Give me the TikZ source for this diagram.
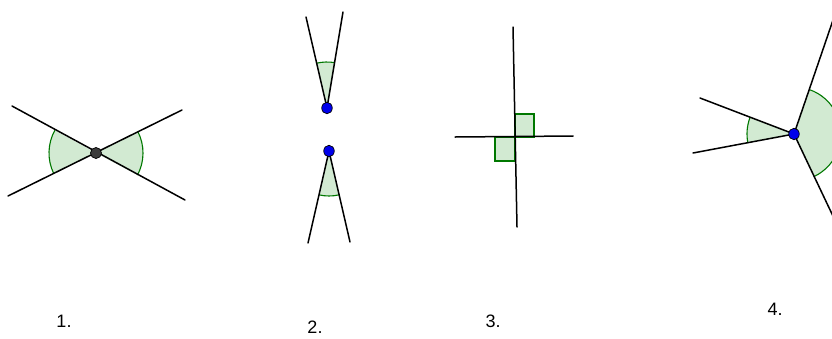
\documentclass[tikz,border=0pt]{standalone}
\usepackage{fontspec}
\setmainfont{Liberation Sans}
\usetikzlibrary{calc,shapes.geometric}
\begin{document}
\begin{tikzpicture}[x=1pt,y=-1pt,
  ray/.style={line width=1.5pt,black,line cap=round},
  sector/.style={fill={rgb,255:red,210;green,234;blue,210}},
  arcline/.style={draw={rgb,255:red,0;green,120;blue,0},line width=1.1pt},
  bluedot/.style={ellipse,draw=black,line width=0.7pt,fill={rgb,255:red,0;green,0;blue,235},minimum width=10.5pt,minimum height=11.5pt,inner sep=0pt},
  greydot/.style={circle,draw=black,line width=0.7pt,fill={rgb,255:red,60;green,60;blue,60},minimum size=11pt,inner sep=0pt},
  lbl/.style={font=\fontsize{18}{20}\selectfont,inner sep=0pt}]
\clip (0,0) rectangle (832,338);
\fill[white] (0,0) rectangle (832,338);
% ---------- figure 1
\coordinate (c1) at (96,153);
\coordinate (a1) at (12,106);
\coordinate (b1) at (185,200);
\coordinate (e1) at (8,196);
\coordinate (f1) at (182,110);
\fill[sector] (c1) -- ++(154:47) arc[start angle=154,end angle=209,radius=47] -- cycle;
\draw[arcline] ($(c1)+(154:47)$) arc[start angle=154,end angle=209,radius=47];
\fill[sector] (c1) -- ++(-27:47) arc[start angle=-27,end angle=28,radius=47] -- cycle;
\draw[arcline] ($(c1)+(-27:47)$) arc[start angle=-27,end angle=28,radius=47];
\draw[ray] (a1) -- (b1);
\draw[ray] (e1) -- (f1);
\node[greydot] (d1) at (c1) {};
% ---------- figure 2
\coordinate (c2a) at (327,108);
\coordinate (c2b) at (329,151);
\coordinate (u2l) at (306,17);
\coordinate (u2r) at (343,12);
\coordinate (l2l) at (308,243);
\coordinate (l2r) at (350,242);
\fill[sector] (c2a) -- ++(-103:46) arc[start angle=-103,end angle=-80.5,radius=46] -- cycle;
\draw[arcline] ($(c2a)+(-103:46)$) arc[start angle=-103,end angle=-80.5,radius=46];
\fill[sector] (c2b) -- ++(77:45) arc[start angle=77,end angle=103,radius=45] -- cycle;
\draw[arcline] ($(c2b)+(77:45)$) arc[start angle=77,end angle=103,radius=45];
\draw[ray] (c2a) -- (u2l);
\draw[ray] (c2a) -- (u2r);
\draw[ray] (c2b) -- (l2l);
\draw[ray] (c2b) -- (l2r);
\node[bluedot] (d2a) at (c2a) {};
\node[bluedot] (d2b) at (c2b) {};
% ---------- figure 3
\coordinate (c3) at (515,137);
\coordinate (v3t) at (513,27);
\coordinate (v3b) at (517,227);
\coordinate (h3l) at (455,137);
\coordinate (h3r) at (573,136);
\filldraw[sector,draw={rgb,255:red,0;green,120;blue,0},line width=1.1pt] (c3) rectangle ++(19,-23);
\filldraw[sector,draw={rgb,255:red,0;green,120;blue,0},line width=1.1pt] (c3) rectangle ++(-20,24);
\draw[ray] (v3t) -- (v3b);
\draw[ray] (h3l) -- (h3r);
% ---------- figure 4
\coordinate (c4) at (794,134);
\coordinate (p4a) at (700,98);
\coordinate (p4b) at (693,153);
\coordinate (p4c) at ($(c4)+(-71.1:140)$);
\coordinate (p4d) at ($(c4)+(64.6:140)$);
\fill[sector] (c4) -- ++(169.3:47) arc[start angle=169.3,end angle=201,radius=47] -- cycle;
\draw[arcline] ($(c4)+(169.3:47)$) arc[start angle=169.3,end angle=201,radius=47];
\fill[sector] (c4) -- ++(-71.1:47) arc[start angle=-71.1,end angle=64.6,radius=47] -- cycle;
\draw[arcline] ($(c4)+(-71.1:47)$) arc[start angle=-71.1,end angle=64.6,radius=47];
\draw[ray] (c4) -- (p4a);
\draw[ray] (c4) -- (p4b);
\draw[ray] (c4) -- (p4c);
\draw[ray] (c4) -- (p4d);
\node[bluedot] (d4) at (c4) {};
% ---------- labels
\node[lbl] (t1) at (64,321) {1.};
\node[lbl] (t2) at (315,327) {2.};
\node[lbl] (t3) at (493,321) {3.};
\node[lbl] (t4) at (775,309) {4.};
\end{tikzpicture}
\end{document}
